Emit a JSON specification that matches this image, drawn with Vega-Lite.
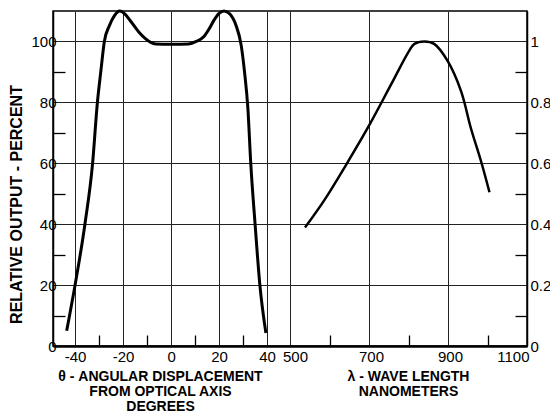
{
  "$schema": "https://vega.github.io/schema/vega-lite/v6.json",
  "width": 474,
  "height": 335,
  "autosize": "none",
  "padding": {"left": 53, "top": 11, "right": 23, "bottom": 67},
  "background": "white",
  "config": {
    "view": {"stroke": "black", "strokeWidth": 1.5},
    "font": "Liberation Sans",
    "axis": {
      "labelFont": "Liberation Sans",
      "labelFontSize": 15,
      "labelColor": "black",
      "titleFont": "Liberation Sans",
      "titleFontSize": 14,
      "titleFontWeight": "bold",
      "titleColor": "black",
      "domainColor": "black",
      "tickColor": "black",
      "tickWidth": 1.3,
      "gridColor": "#222222",
      "gridWidth": 1
    }
  },
  "datasets": {
    "angular": [
      {"theta": -43.5, "pct": 5},
      {"theta": -40, "pct": 20},
      {"theta": -35.9, "pct": 40},
      {"theta": -32.7, "pct": 60},
      {"theta": -30.7, "pct": 80},
      {"theta": -29.3, "pct": 90},
      {"theta": -27.8, "pct": 100},
      {"theta": -25.7, "pct": 105.2},
      {"theta": -23.6, "pct": 108.5},
      {"theta": -21.4, "pct": 110},
      {"theta": -19, "pct": 108.8},
      {"theta": -17, "pct": 106.8},
      {"theta": -15, "pct": 104.7},
      {"theta": -12.8, "pct": 102.5},
      {"theta": -10.7, "pct": 100.9},
      {"theta": -8.5, "pct": 99.7},
      {"theta": -6.4, "pct": 99.2},
      {"theta": 0, "pct": 99.1},
      {"theta": 7.3, "pct": 99.2},
      {"theta": 10.5, "pct": 100},
      {"theta": 13.7, "pct": 101.6},
      {"theta": 16, "pct": 104.3},
      {"theta": 17.9, "pct": 107},
      {"theta": 20, "pct": 109.2},
      {"theta": 22.1, "pct": 110},
      {"theta": 24.5, "pct": 109},
      {"theta": 27, "pct": 105.4},
      {"theta": 29.2, "pct": 98.8},
      {"theta": 30.6, "pct": 90},
      {"theta": 32, "pct": 78},
      {"theta": 33.2, "pct": 60},
      {"theta": 35, "pct": 40},
      {"theta": 37, "pct": 20},
      {"theta": 39.5, "pct": 4.3}
    ],
    "spectral": [
      {"lambda": 538, "rel": 0.389},
      {"lambda": 587, "rel": 0.479},
      {"lambda": 642, "rel": 0.595},
      {"lambda": 701, "rel": 0.726},
      {"lambda": 756, "rel": 0.859},
      {"lambda": 802, "rel": 0.97},
      {"lambda": 815, "rel": 0.992},
      {"lambda": 840, "rel": 1.0},
      {"lambda": 865, "rel": 0.992},
      {"lambda": 899, "rel": 0.936},
      {"lambda": 933, "rel": 0.837},
      {"lambda": 958, "rel": 0.715},
      {"lambda": 984, "rel": 0.605},
      {"lambda": 1005, "rel": 0.505}
    ]
  },
  "layer": [
    {
      "data": {"name": "angular"},
      "mark": {"type": "line", "color": "black", "strokeWidth": 3, "interpolate": "monotone"},
      "encoding": {
        "x": {
          "field": "theta", "type": "quantitative",
          "scale": {"domain": [-49.2, 148.3], "nice": false, "zero": false},
          "axis": {
            "orient": "bottom",
            "values": [-40, -30, -20, -10, 0, 10, 20, 30, 40],
            "grid": true,
            "gridOpacity": {"condition": {"test": "datum.value % 20 !== 0", "value": 0}, "value": 1},
            "tickSize": -11,
            "tickOpacity": {"condition": {"test": "datum.value % 20 !== 0", "value": 1}, "value": 0},
            "labelExpr": "datum.value % 20 === 0 ? toString(datum.value) : ''",
            "labelPadding": 14,
            "domainWidth": 2,
            "title": ["θ - ANGULAR DISPLACEMENT", "FROM OPTICAL AXIS", "DEGREES"],
            "titleX": 107,
            "titleY": 23,
            "titleAlign": "center",
            "titleBaseline": "top",
            "titleLineHeight": 15
          }
        },
        "y": {
          "field": "pct", "type": "quantitative",
          "scale": {"domain": [0, 110], "nice": false},
          "axis": {
            "orient": "left",
            "values": [0, 10, 20, 30, 40, 50, 60, 70, 80, 90, 100],
            "grid": true,
            "gridOpacity": {"condition": {"test": "datum.value % 20 !== 0", "value": 0}, "value": 1},
            "tickSize": -12,
            "tickOpacity": {"condition": {"test": "datum.value % 20 !== 0", "value": 1}, "value": 0},
            "labelExpr": "datum.value % 20 === 0 ? toString(datum.value) : ''",
            "labelPadding": 9,
            "domainWidth": 1.5,
            "title": "RELATIVE OUTPUT - PERCENT",
            "titleFontSize": 16,
            "titleX": -37,
            "titleY": 193,
            "titleAlign": "center",
            "titleBaseline": "middle",
            "titleAngle": -90
          }
        }
      }
    },
    {
      "data": {"name": "spectral"},
      "mark": {"type": "line", "color": "black", "strokeWidth": 2.5, "interpolate": "catmull-rom"},
      "encoding": {
        "x": {
          "field": "lambda", "type": "quantitative",
          "scale": {"domain": [-100, 1100], "nice": false, "zero": false},
          "axis": {
            "orient": "bottom",
            "values": [500, 600, 700, 800, 900, 1000, 1100],
            "grid": true,
            "gridOpacity": {"condition": {"test": "(datum.value - 500) % 200 !== 0", "value": 0}, "value": 1},
            "tickSize": -11,
            "tickOpacity": {"condition": {"test": "(datum.value - 500) % 200 !== 0", "value": 1}, "value": 0},
            "labelExpr": "(datum.value - 500) % 200 === 0 ? toString(datum.value) : ''",
            "labelOffset": {"condition": {"test": "datum.value === 500", "value": 5}, "value": 2},
            "labelPadding": 14,
            "domainWidth": 2,
            "title": ["λ - WAVE LENGTH", "NANOMETERS"],
            "titleX": 355,
            "titleY": 23,
            "titleAlign": "center",
            "titleBaseline": "top",
            "titleLineHeight": 15
          }
        },
        "y": {
          "field": "rel", "type": "quantitative",
          "scale": {"domain": [0, 1.1], "nice": false},
          "axis": {
            "orient": "right",
            "values": [0, 0.1, 0.2, 0.3, 0.4, 0.5, 0.6, 0.7, 0.8, 0.9, 1],
            "grid": false,
            "tickSize": -12,
            "tickOpacity": {"condition": {"test": "round(datum.value * 10) % 2 !== 0", "value": 1}, "value": 0},
            "labelExpr": "round(datum.value * 10) % 2 === 0 ? toString(datum.value) : ''",
            "labelPadding": 15,
            "domainWidth": 1.5,
            "title": null
          }
        }
      }
    }
  ],
  "resolve": {
    "scale": {"x": "independent", "y": "independent"},
    "axis": {"x": "independent", "y": "independent"}
  }
}
